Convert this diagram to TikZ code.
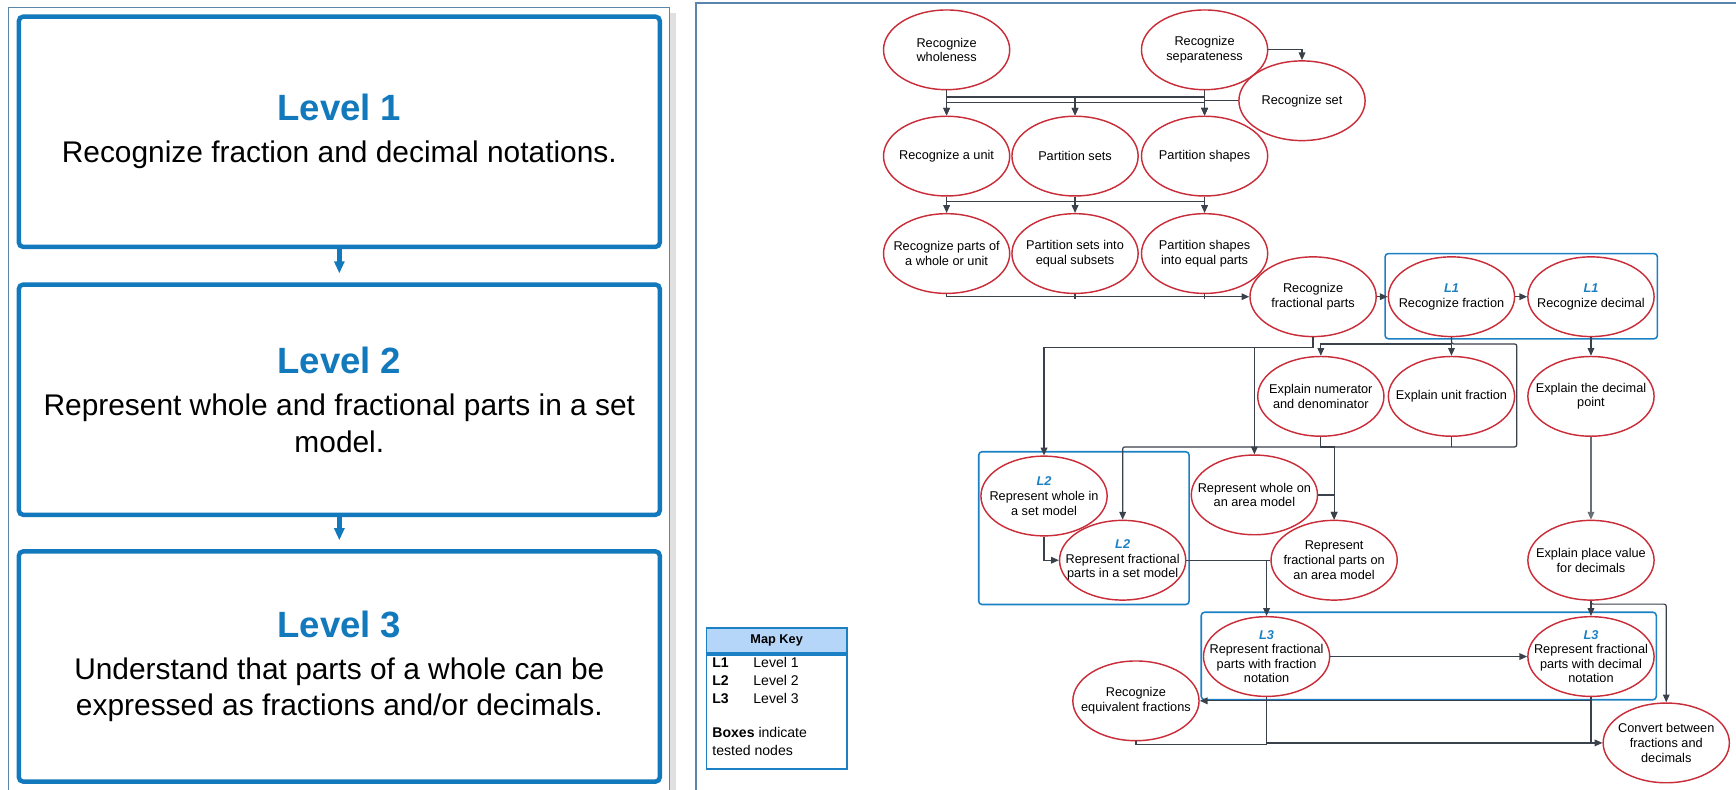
\documentclass[tikz,border=0pt]{standalone}
\usepackage{fontspec}
\setmainfont{Liberation Sans}
\usetikzlibrary{positioning}
\usetikzlibrary{arrows.meta}
\usetikzlibrary{shapes.geometric}

\definecolor{nodered}{HTML}{C92D39}
\definecolor{boxblue}{HTML}{1C80C4}
\definecolor{lvlblue}{HTML}{1279BC}
\definecolor{linegray}{HTML}{3A414A}
\definecolor{framec}{HTML}{5A86AD}
\definecolor{keyfill}{HTML}{B5D6F8}

\newcommand{\lvltag}[1]{{\color{boxblue}\bfseries\itshape #1}}

\tikzset{
  skill/.style={ellipse, draw=nodered, line width=1.3pt, fill=white,
    minimum width=114pt, minimum height=72pt, inner xsep=-14pt, inner ysep=-3pt,
    align=center, font=\fontsize{11.5}{13.2}\selectfont},
  levelbox/.style={draw=lvlblue, line width=4pt, rounded corners=4pt, fill=white,
    minimum width=579pt, minimum height=208pt, align=center,
    font=\fontsize{27}{33}\selectfont},
  levarr/.style={draw=lvlblue, line width=4pt, -{Triangle[length=11pt,width=9pt]}, shorten >=8pt},
  conn/.style={draw=linegray, line width=1.1pt},
  arr/.style={conn, -{Triangle[length=7pt,width=6pt]}},
  testbox/.style={draw=boxblue, line width=1.4pt, rounded corners=3pt},
  keyhead/.style={draw=boxblue, line width=1.5pt, fill=keyfill, minimum width=127pt,
    minimum height=23pt, font=\bfseries\fontsize{11.5}{13}\selectfont},
  keybody/.style={draw=boxblue, line width=1.5pt, minimum width=127pt, minimum height=103pt}
}

\begin{document}
\begin{tikzpicture}[x=1pt, y=-1pt]
\useasboundingbox (0,0) rectangle (1568,713);

% panels
\fill[black!12] (605,12) rectangle (611,720);
\draw[framec, line width=1pt] (8,720) -- (8,7) -- (605,7) -- (605,720);
\draw[framec, line width=1.8pt] (629,720) -- (629,3) -- (1575,3);

% levels
\node (lvl1) [levelbox] at (306.5,119) {{\fontsize{33}{33}\selectfont\bfseries\color{lvlblue}Level 1}\\[5pt]Recognize fraction and decimal notations.};
\node (lvl2) [levelbox] at (306.5,361) {{\fontsize{33}{33}\selectfont\bfseries\color{lvlblue}Level 2}\\[5pt]Represent whole and fractional parts in a set\\model.};
\node (lvl3) [levelbox] at (306.5,602) {{\fontsize{33}{33}\selectfont\bfseries\color{lvlblue}Level 3}\\[5pt]Understand that parts of a whole can be\\expressed as fractions and/or decimals.};
\draw[levarr] (lvl1.south) -- (lvl2.north);
\draw[levarr] (lvl2.south) -- (lvl3.north);

% tested boxes
\draw[testbox] (1251,229) rectangle (1497,306);
\draw[testbox] (884,408) rectangle (1074,546);
\draw[testbox] (1085,553) rectangle (1496,632);

% map key
\node (keyhead) [keyhead] at (701.5,578.5) {Map Key};
\node (keybody) [keybody, below=0pt of keyhead] {};
\node (keytext) [anchor=north west, align=left, inner sep=0pt, font=\fontsize{12.7}{16}\selectfont]
  at ([shift={(6pt,-3pt)}]keybody.north west)
  {\makebox[37pt][l]{\textbf{L1}}Level 1\\
   \makebox[37pt][l]{\textbf{L2}}Level 2\\
   \makebox[37pt][l]{\textbf{L3}}Level 3\\[15pt]
   \textbf{Boxes} indicate\\tested nodes};

% skills
\node (whole) [skill] at (855,45) {Recognize\\wholeness};
\node (sep) [skill] at (1088,45) {Recognize\\separateness};
\node (rset) [skill] at (1176,91) {Recognize set};
\node (unit) [skill] at (855,141) {Recognize a unit};
\node (psets) [skill] at (971,141) {Partition sets};
\node (pshapes) [skill] at (1088,141) {Partition shapes};
\node (partsof) [skill] at (855,229) {Recognize parts of\\a whole or unit};
\node (subsets) [skill] at (971,229) {Partition sets into\\equal subsets};
\node (eqparts) [skill] at (1088,229) {Partition shapes\\into equal parts};
\node (fracparts) [skill] at (1186,268) {Recognize\\fractional parts};
\node (fraction) [skill] at (1311,268) {\lvltag{L1}\\Recognize fraction};
\node (decimal) [skill] at (1437,268) {\lvltag{L1}\\Recognize decimal};
\node (numden) [skill] at (1193,358) {Explain numerator\\and denominator};
\node (unitfrac) [skill] at (1311,358) {Explain unit fraction};
\node (decpoint) [skill] at (1437,358) {Explain the decimal\\point};
\node (wholeset) [skill] at (943,448) {\lvltag{L2}\\Represent whole in\\a set model};
\node (wholearea) [skill] at (1133,447) {Represent whole on\\an area model};
\node (fracset) [skill] at (1014,506) {\lvltag{L2}\\Represent fractional\\parts in a set model};
\node (fracarea) [skill] at (1205,506) {Represent\\fractional parts on\\an area model};
\node (placeval) [skill] at (1437,506) {Explain place value\\for decimals};
\node (fracnot) [skill] at (1144,593) {\lvltag{L3}\\Represent fractional\\parts with fraction\\notation};
\node (decnot) [skill] at (1437,593) {\lvltag{L3}\\Represent fractional\\parts with decimal\\notation};
\node (equiv) [skill] at (1026,633) {Recognize\\equivalent fractions};
\node (convert) [skill] at (1505,671) {Convert between\\fractions and\\decimals};

% connectors
\draw[arr] (whole.south) -- (unit.north);
\draw[arr] (whole.south) -- ++(0,11) -| (psets.north);
\draw[arr] (whole.south) -- ++(0,11) -| (pshapes.north);
\draw[arr] (sep.south) -- ++(0,6) -| (unit.north);
\draw[arr] (sep.south) -- ++(0,6) -| (psets.north);
\draw[arr] (sep.south) -- (pshapes.north);
\draw[arr] (rset.west) -| (pshapes.north);
\draw[arr] (sep.east) -| (rset.north);
\draw[arr] (unit.south) -- (partsof.north);
\draw[arr] (psets.south) -- (subsets.north);
\draw[arr] (pshapes.south) -- (eqparts.north);
\draw[conn] (unit.south) -- ++(0,4) -| (pshapes.south);
\draw[arr] (partsof.south) |- (fracparts.west);
\draw[conn] (subsets.south) -- ++(0,4);
\draw[conn] (eqparts.south) -- ++(0,4);
\draw[arr] (fracparts.east) -- (fraction.west);
\draw[arr] (fraction.east) -- (decimal.west);
\draw[arr] (decimal.south) -- (decpoint.north);
\draw[arr, linegray!75] (decpoint.south) -- (placeval.north);
\draw[arr] (fracparts.south) -- ++(0,9) -| (wholeset.north);
\draw[arr] (fracparts.south) -- ++(0,9) -| (wholearea.north);
\draw[arr] (fraction.south) -- (unitfrac.north);
\draw[arr] (fraction.south) -- ++(0,6) -| (numden.north);
\draw[arr, rounded corners=2pt] (fraction.south) -- ++(0,6) -| ++(59,93) -| (fracset.north);
\draw[conn] (unitfrac.south) -- ++(0,9);
\draw[arr] (numden.south) -- ++(0,9) -| (fracarea.north);
\draw[arr] (wholeset.south) |- (fracset.west);
\draw[arr] (wholearea.east) -| (fracarea.north);
\draw[arr] (fracset.east) -| (fracnot.north);
\draw[conn] (fracarea.west) -- ++(-4,0);
\draw[arr] (placeval.south) -- (decnot.north);
\draw[arr, rounded corners=2pt] (placeval.south) -- ++(0,3) -| (convert.north);
\draw[arr] (fracnot.east) -- (decnot.west);
\draw[arr] (decnot.south) |- (equiv.east);
\draw[arr] (fracnot.south) |- (convert.west);
\draw[conn] (decnot.south) -- ++(0,41);
\draw[conn] (equiv.south) -- ++(0,3) -- ++(118,0);
\end{tikzpicture}
\end{document}
